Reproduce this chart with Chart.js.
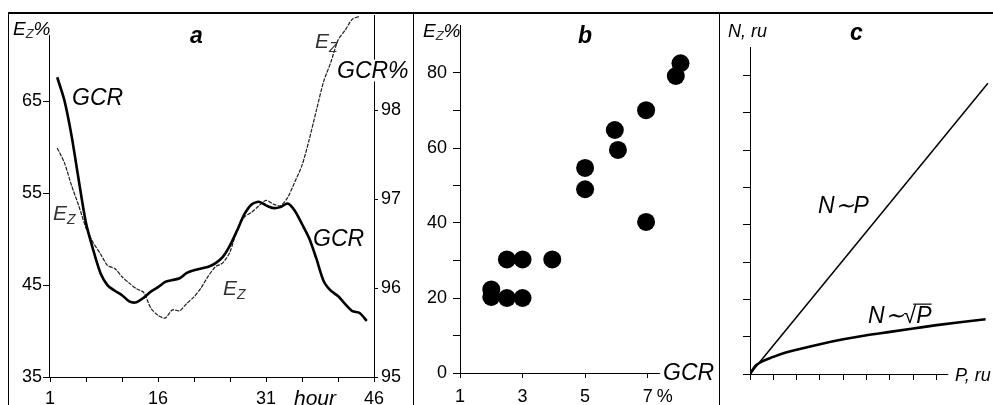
<!DOCTYPE html>
<html>
<head>
<meta charset="utf-8">
<script src="https://cdn.jsdelivr.net/npm/chart.js@4.4.1/dist/chart.umd.min.js"></script>
<style>
  html, body { margin: 0; padding: 0; background: #fff; }
  #fig { position: relative; width: 993px; height: 405px; overflow: hidden; background: #fff; }
  .rule { position: absolute; background: #000; }
  canvas { position: absolute; display: block; }
</style>
</head>
<body>
<div id="fig">
  <div class="rule" style="left:8px;top:12px;width:985px;height:2px"></div>
  <div class="rule" style="left:8px;top:12px;width:1px;height:393px"></div>
  <div class="rule" style="left:413px;top:12px;width:1px;height:393px"></div>
  <div class="rule" style="left:719px;top:12px;width:1px;height:393px"></div>
  <canvas id="chartA" width="404" height="391" style="left:9px;top:14px;width:404px;height:391px"></canvas>
  <canvas id="chartB" width="305" height="391" style="left:414px;top:14px;width:305px;height:391px"></canvas>
  <canvas id="chartC" width="273" height="391" style="left:720px;top:14px;width:273px;height:391px"></canvas>
</div>
<script>
const FONT = '"Liberation Sans", Arial, Helvetica, sans-serif';

// ---- panel a: hourly E_Z and GCR ----
const hours = [2, 3, 4, 5, 6, 7, 8, 9, 10, 11, 12, 13, 14, 15, 16, 17, 18, 19, 20, 21, 22, 23,
  24, 25, 26, 27, 28, 29, 30, 31, 32, 33, 34, 35, 36, 37, 38, 39, 40, 41, 42, 43, 44, 45];
const gcrHourly = [98.37, 98.11, 97.71, 97.21, 96.73, 96.43, 96.17, 96.03, 95.97, 95.92, 95.85, 95.84,
  95.89, 95.96, 96.01, 96.07, 96.09, 96.11, 96.17, 96.20, 96.22, 96.24, 96.28, 96.35, 96.48, 96.65,
  96.83, 96.94, 96.97, 96.93, 96.90, 96.91, 96.95, 96.87, 96.72, 96.56, 96.33, 96.08, 95.97, 95.91,
  95.82, 95.74, 95.72, 95.63];
const ezHourly = [59.9, 58.3, 55.8, 53.6, 51.2, 49.6, 48.4, 47.1, 46.8, 45.9, 45.2, 44.6, 44.2, 42.5,
  41.7, 41.4, 42.3, 42.2, 43.0, 43.7, 44.7, 46.0, 47.0, 47.4, 48.6, 51.0, 52.4, 52.9, 53.6, 54.2,
  53.8, 53.6, 54.5, 56.2, 58.0, 60.8, 64.0, 67.1, 69.2, 71.6, 72.7, 73.9, 74.2, null];
const hourTicks = [1, 6, 11, 16, 21, 26, 31, 36, 41, 46];
const hourLabels = [1, 16, 31, 46];
const ezTicks = [35, 45, 55, 65];
const gcrTicks = [95, 96, 97, 98];

// ---- panel b: E_Z vs GCR ----
const gcrPoints = [2, 2, 2.5, 3, 2.5, 3, 3.95, 5, 5, 6.05, 5.95, 6.95, 6.95, 7.9, 8.05];
const ezPoints = [22.3, 20.3, 20, 20, 30.3, 30.3, 30.3, 49, 54.7, 59.5, 64.8, 70.1, 40.3, 79.2, 82.6];
const gcrAxisTicks = [1, 3, 5, 7];
const ezAxisTicks = [0, 10, 20, 30, 40, 50, 60, 70, 80];
const ezAxisLabels = [0, 20, 40, 60, 80];

// ---- panel c: N vs P ----
const pLinear = [0, 10.2];
const nLinear = [0, 7.8];
const pSqrt = [0, 0.25, 0.5, 1, 1.5, 2, 3, 4, 5, 6, 7, 8, 9, 10.1];
const nSqrt = [0, 0.23, 0.33, 0.46, 0.57, 0.65, 0.80, 0.93, 1.04, 1.13, 1.22, 1.31, 1.39, 1.47];
const pTicks = [0, 1, 2, 3, 4, 5, 6, 7, 8];
const nTicks = [0, 1, 2, 3, 4, 5, 6, 7, 8];

Chart.defaults.font.family = FONT;
Chart.defaults.color = '#000';
Chart.defaults.animation = false;

const pairs = (xs, ys) => xs.map((x, i) => ({ x, y: ys[i] }));
const setTicks = list => s => { s.ticks = list.map(v => ({ value: v })); };
const fixWidth = w => s => { s.width = w; s.paddingTop = 0; s.paddingBottom = 0; };
const fixHeight = h => s => { s.height = h; s.paddingLeft = 0; s.paddingRight = 0; };

const axis = (o) => ({
  type: 'linear',
  position: o.position,
  min: o.min,
  max: o.max,
  afterBuildTicks: setTicks(o.ticks),
  afterFit: o.width ? fixWidth(o.width) : fixHeight(o.height),
  ticks: {
    autoSkip: false, maxRotation: 0, padding: o.padding, color: '#000',
    font: { family: FONT, size: 18 },
    callback: v => (o.labels && o.labels.includes(v) ? String(v) : '')
  },
  grid: { drawOnChartArea: false, drawTicks: true, tickLength: o.tick, color: '#000', lineWidth: 1 },
  border: { display: o.border !== false, color: '#000', width: 1 }
});

// draws a run of text pieces (for subscripts, mixed fonts)
const drawParts = (ctx, x, y, parts, bg) => {
  let w = 0;
  parts.forEach(p => { ctx.font = `${p.style || 'italic'} ${p.size}px ${FONT}`; w += ctx.measureText(p.t).width; });
  if (bg) { ctx.fillStyle = '#fff'; ctx.fillRect(x - 2, y - parts[0].size * 0.8, w + 4, parts[0].size * 0.95); }
  let cx = x;
  parts.forEach(p => {
    ctx.font = `${p.style || 'italic'} ${p.size}px ${FONT}`;
    ctx.fillStyle = p.color || '#000';
    ctx.fillText(p.t, cx, y + (p.dy || 0));
    const pw = ctx.measureText(p.t).width;
    if (p.overline) {
      ctx.strokeStyle = p.color || '#000';
      ctx.lineWidth = 1.2;
      ctx.beginPath();
      ctx.moveTo(cx - 3, y - p.size * 0.82);
      ctx.lineTo(cx + pw, y - p.size * 0.82);
      ctx.stroke();
    }
    cx += pw;
  });
};

const notesPlugin = (notes, extra) => ({
  id: 'notes',
  afterDraw(chart) {
    const ctx = chart.ctx;
    ctx.save();
    ctx.textAlign = 'left';
    ctx.textBaseline = 'alphabetic';
    notes.forEach(n => drawParts(ctx, n.x, n.y, n.parts, n.bg));
    if (extra) extra(chart, ctx);
    ctx.restore();
  }
});

// axis line drawn only up to a given value
const axisLinePlugin = limits => ({
  id: 'axisLines',
  beforeDatasetsDraw(chart) {
    const { ctx, chartArea, scales } = chart;
    ctx.save();
    ctx.strokeStyle = '#000';
    ctx.lineWidth = 1;
    limits.forEach(l => {
      const s = scales[l.id];
      ctx.beginPath();
      if (s.isHorizontal()) {
        const y = Math.round(chartArea.bottom) + 0.5;
        ctx.moveTo(s.getPixelForValue(s.min), y);
        ctx.lineTo(s.getPixelForValue(l.to), y);
      } else {
        const x = Math.round(s.position === 'left' ? chartArea.left : chartArea.right) - 0.5;
        ctx.moveTo(x, s.getPixelForValue(s.min));
        ctx.lineTo(x, s.getPixelForValue(l.to));
      }
      ctx.stroke();
    });
    ctx.restore();
  }
});

const EZ = (size, color) => [
  { t: 'E', size, color },
  { t: 'Z', size: Math.round(size * 0.66), dy: Math.round(size * 0.2), color }
];
const EZPCT = [{ t: 'E', size: 19 }, { t: 'Z', size: 13, dy: 3, color: '#333' }, { t: '%', size: 19 }];

// ---------------- panel a ----------------
new Chart(document.getElementById('chartA'), {
  type: 'line',
  data: {
    datasets: [
      {
        label: 'GCR', data: pairs(hours, gcrHourly), yAxisID: 'yR',
        borderColor: '#000', borderWidth: 2.6, pointRadius: 0, tension: 0.25
      },
      {
        label: 'Ez', data: pairs(hours, ezHourly), yAxisID: 'yL',
        borderColor: '#1e1e1e', borderWidth: 1.2, borderDash: [4, 1.2], pointRadius: 0, tension: 0.25, spanGaps: false
      }
    ]
  },
  options: {
    responsive: false,
    layout: { padding: { top: 1, left: 0, right: 0, bottom: 0 } },
    plugins: { legend: { display: false }, tooltip: { enabled: false } },
    scales: {
      x: axis({ position: 'bottom', min: 1, max: 46, ticks: hourTicks, labels: hourLabels, height: 28, padding: 6, tick: 5 }),
      yL: axis({ position: 'left', min: 35, max: 74.35, ticks: ezTicks, labels: ezTicks, width: 41, padding: 1, tick: 7, border: false }),
      yR: axis({ position: 'right', min: 95, max: 99.07, ticks: gcrTicks, labels: gcrTicks, width: 39, padding: 3, tick: 4 })
    }
  },
  plugins: [
    axisLinePlugin([{ id: 'yL', to: 72.2 }]),
    notesPlugin([
      { x: 4, y: 21, parts: EZPCT },
      { x: 181, y: 29, parts: [{ t: 'a', size: 23, style: 'italic bold' }] },
      { x: 63, y: 91, parts: [{ t: 'GCR', size: 23 }] },
      { x: 44, y: 206, parts: EZ(21, '#333') },
      { x: 214, y: 281, parts: EZ(21, '#333') },
      { x: 306, y: 34, parts: EZ(21, '#333') },
      { x: 304, y: 232, parts: [{ t: 'GCR', size: 23 }] },
      { x: 328, y: 64, bg: true, parts: [{ t: 'GCR%', size: 23 }] },
      { x: 285, y: 391, parts: [{ t: 'hour', size: 21 }] }
    ])
  ]
});

// ---------------- panel b ----------------
new Chart(document.getElementById('chartB'), {
  type: 'scatter',
  data: {
    datasets: [{
      data: pairs(gcrPoints, ezPoints),
      backgroundColor: '#000', borderColor: '#000', borderWidth: 0, pointRadius: 9
    }]
  },
  options: {
    responsive: false,
    layout: { padding: { top: 11, left: 0, right: 26, bottom: 0 } },
    plugins: { legend: { display: false }, tooltip: { enabled: false } },
    scales: {
      x: axis({ position: 'bottom', min: 1, max: 8.45, ticks: gcrAxisTicks, labels: gcrAxisTicks, height: 32, padding: 8, tick: 5, border: false }),
      y: axis({ position: 'left', min: 0, max: 92.8, ticks: ezAxisTicks, labels: ezAxisLabels, width: 46, padding: 6, tick: 7 })
    }
  },
  plugins: [
    axisLinePlugin([{ id: 'x', to: 7.39 }]),
    notesPlugin([
      { x: 9, y: 23, parts: EZPCT },
      { x: 164, y: 29, parts: [{ t: 'b', size: 23, style: 'italic bold' }] },
      { x: 249, y: 366, parts: [{ t: 'GCR', size: 23 }] }
    ], (chart, ctx) => {
      const x = chart.scales.x.getPixelForValue(7) + 9;
      ctx.font = `18px ${FONT}`;
      ctx.fillStyle = '#000';
      ctx.textBaseline = 'middle';
      ctx.fillText('%', x, chart.chartArea.bottom + 5 + 8 + 10.8);
    })
  ]
});

// ---------------- panel c ----------------
new Chart(document.getElementById('chartC'), {
  type: 'line',
  data: {
    datasets: [
      { data: pairs(pLinear, nLinear), borderColor: '#000', borderWidth: 1.5, pointRadius: 0 },
      { data: pairs(pSqrt, nSqrt), borderColor: '#000', borderWidth: 2.6, pointRadius: 0, cubicInterpolationMode: 'monotone' }
    ]
  },
  options: {
    responsive: false,
    layout: { padding: { top: 33, left: 0, right: 3, bottom: 0 } },
    plugins: { legend: { display: false }, tooltip: { enabled: false } },
    scales: {
      x: axis({ position: 'bottom', min: 0, max: 10.29, ticks: pTicks, height: 31, padding: 4, tick: 6, border: false }),
      y: axis({ position: 'left', min: 0, max: 8.77, ticks: nTicks, width: 30, padding: 2, tick: 7 })
    }
  },
  plugins: [
    axisLinePlugin([{ id: 'x', to: 8.5 }]),
    notesPlugin([
      { x: 8, y: 23, parts: [{ t: 'N, ru', size: 18 }] },
      { x: 130, y: 26, parts: [{ t: 'c', size: 23, style: 'italic bold' }] },
      { x: 98, y: 199, parts: [{ t: 'N\u223CP', size: 23 }] },
      { x: 148, y: 309, parts: [{ t: 'N\u223C', size: 23 }, { t: '\u221A', size: 23, style: 'normal' }, { t: 'P', size: 23, overline: true }] },
      { x: 235, y: 367, parts: [{ t: 'P, ru', size: 18 }] }
    ])
  ]
});
</script>
</body>
</html>
